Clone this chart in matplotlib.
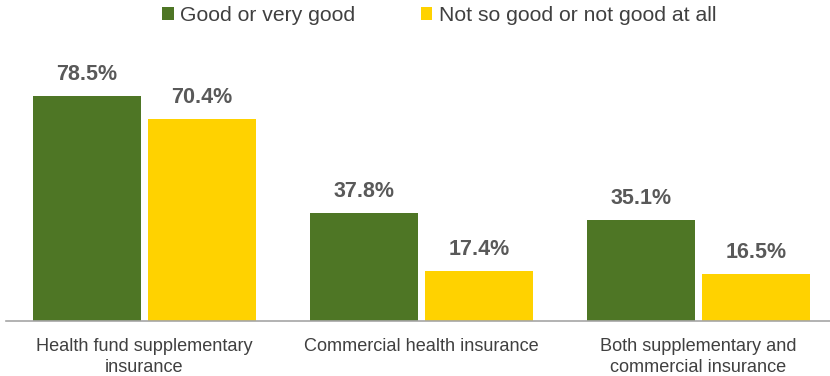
import numpy as np
import matplotlib
matplotlib.use("Agg")
import matplotlib.pyplot as plt

plt.rcParams['font.family'] = ['Liberation Sans', 'DejaVu Sans']

categories = ["Health fund supplementary\ninsurance",
              "Commercial health insurance",
              "Both supplementary and\ncommercial insurance"]
good = [78.5, 37.8, 35.1]
not_good = [70.4, 17.4, 16.5]
series_names = ["Good or very good", "Not so good or not good at all"]

green = '#4E7625'
yellow = '#FFD200'

W, H = 830, 376
fig = plt.figure(figsize=(W / 100, H / 100), dpi=100)
ax = fig.add_axes([6 / W, 55 / H, 831 / W, 258 / H])

x = np.arange(len(categories))
w = 108 / 277
off = 115 / 277 / 2
b1 = ax.bar(x - off, good, w, color=green, label=series_names[0])
b2 = ax.bar(x + off, not_good, w, color=yellow, label=series_names[1])

for bars, vals in [(b1, good), (b2, not_good)]:
    for b, v in zip(bars, vals):
        ax.annotate("{:.1f}%".format(v), (b.get_x() + b.get_width() / 2, v),
                    xytext=(0, 8), textcoords='offset points', ha='center', va='bottom',
                    fontsize=15.5, fontweight='bold', color='#595959')

ax.set_xlim(-0.5, 2.5)
ax.set_ylim(0, 90)
ax.set_xticks(x)
ax.set_xticklabels(categories, fontsize=13.1, color='#404040', linespacing=1.33)
ax.tick_params(axis='x', length=0, pad=12)
ax.set_yticks([])
for s in ['top', 'right', 'left']:
    ax.spines[s].set_visible(False)
ax.spines['bottom'].set_color('#A6A6A6')
ax.spines['bottom'].set_linewidth(1.2)

fig.legend(loc='upper center', bbox_to_anchor=(0.529, 1.035), ncol=2, frameon=False,
           fontsize=15.2, handlelength=0.55, handleheight=0.55, handletextpad=0.3,
           columnspacing=3.1, labelcolor='#404040')

fig.savefig("out.png", dpi=100)
